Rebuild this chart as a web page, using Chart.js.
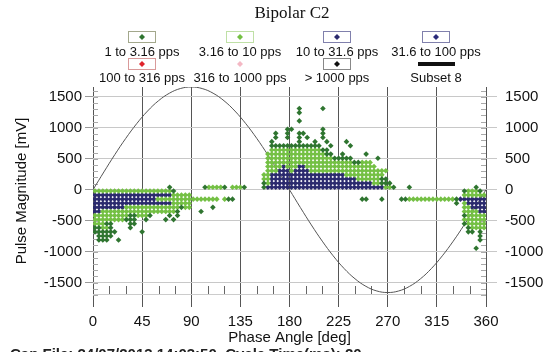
<!DOCTYPE html>
<html>
<head>
<meta charset="utf-8">
<title>Bipolar C2</title>
<script src="https://cdn.jsdelivr.net/npm/chart.js@4.4.1/dist/chart.umd.min.js"></script>
<style>
  html, body { margin: 0; padding: 0; background: #fff; }
  #wrap { width: 552px; height: 352px; }
</style>
</head>
<body>
<div id="wrap"><canvas id="chart" width="552" height="352"></canvas></div>
<script>
// --- data ---
// phase is binned in 3.6 deg steps; each run is [magnitude mV, first bin, last bin]
const phaseBinWidth = 3.6;

const xTicks = [0, 45, 90, 135, 180, 225, 270, 315, 360];
const yTicks = [-1500, -1000, -500, 0, 500, 1000, 1500];

const seriesLabels = ['1 to 3.16 pps', '3.16 to 10 pps', '10 to 31.6 pps', '31.6 to 100 pps',
  '100 to 316 pps', '316 to 1000 pps', '> 1000 pps', 'Subset 8'];

// 1 to 3.16 pps
const runs1to3 = [
  [40, 19, 19], [-20, 20, 20], [-152, 34, 35],
  [-284, 22, 22], [-284, 30, 30], [-350, 21, 21], [-350, 27, 27],
  [-416, 9, 10], [-416, 14, 14], [-416, 19, 19], [-416, 21, 21],
  [-482, 8, 10], [-482, 13, 13], [-482, 18, 18], [-482, 20, 20],
  [-548, 3, 4], [-548, 9, 10], [-614, 0, 1], [-614, 4, 4], [-614, 9, 9],
  [-680, 0, 5], [-680, 12, 12], [-746, 1, 4], [-812, 1, 3], [-812, 6, 6],
  [40, 28, 28], [40, 33, 33], [40, 38, 38],
  [40, 43, 43], [40, 76, 76], [107, 43, 43], [107, 73, 75], [174, 73, 74],
  [442, 66, 67], [509, 61, 65], [509, 72, 72],
  [576, 59, 60], [576, 63, 63], [576, 69, 69], [643, 58, 59],
  [710, 45, 57], [710, 60, 60], [710, 65, 65],
  [777, 45, 45], [777, 52, 52], [777, 56, 56], [777, 59, 59], [777, 64, 64],
  [844, 46, 46], [844, 49, 49], [844, 52, 52], [844, 54, 54], [844, 58, 58],
  [911, 46, 46], [911, 49, 49], [911, 52, 53], [911, 58, 58],
  [978, 49, 50], [978, 58, 58], [1112, 52, 52], [1246, 52, 52],
  [1313, 52, 52], [1313, 58, 58],
  [40, 80, 80], [40, 97, 97],
  [-152, 68, 69], [-152, 73, 73], [-152, 78, 79], [-152, 92, 92], [-218, 92, 92],
  [-20, 94, 94], [-20, 98, 98], [-416, 94, 94], [-548, 94, 94], [-614, 95, 95],
  [-680, 95, 96], [-680, 98, 98], [-746, 98, 98], [-812, 98, 98], [-944, 97, 97]
];

// 3.16 to 10 pps
const runs3to10 = [
  [-20, 0, 19], [-86, 20, 24], [-152, 16, 31], [-152, 33, 33], [-218, 20, 24],
  [-284, 8, 21], [-284, 23, 24], [-350, 2, 20], [-416, 0, 8], [-416, 11, 13],
  [-482, 0, 7], [-548, 0, 2], [-614, 2, 3],
  [40, 29, 32], [40, 35, 37],
  [40, 74, 75], [107, 44, 44], [107, 71, 72], [174, 43, 44], [174, 67, 72],
  [241, 43, 44], [241, 64, 73],
  [308, 44, 46], [308, 50, 50], [308, 55, 74],
  [375, 44, 47], [375, 49, 51], [375, 54, 71],
  [442, 44, 65], [442, 68, 70], [509, 44, 60], [576, 44, 58], [643, 45, 57],
  [-152, 80, 91],
  [-20, 95, 97], [-86, 94, 99], [-218, 94, 94], [-284, 94, 95], [-350, 94, 97],
  [-416, 95, 99], [-482, 94, 99], [-548, 95, 99], [-614, 96, 99]
];

// 10 to 31.6 pps
const runs10to31 = [
  [-86, 0, 19], [-152, 0, 15], [-218, 0, 19], [-284, 0, 7], [-350, 0, 1],
  [40, 44, 73], [107, 45, 70], [174, 45, 66], [241, 45, 63],
  [308, 47, 49], [308, 51, 54], [375, 48, 48], [375, 52, 53],
  [-152, 93, 99], [-218, 95, 99], [-284, 96, 99], [-350, 98, 99]
];

const runs31to100 = [];
const runs100to316 = [];
const runs316to1000 = [];
const runsOver1000 = [];

// reference voltage curve
const sineDeg = [0, 10, 20, 30, 40, 50, 60, 70, 80, 90, 100, 110, 120, 130, 140, 150, 160, 170, 180,
  190, 200, 210, 220, 230, 240, 250, 260, 270, 280, 290, 300, 310, 320, 330, 340, 350, 360];
const sineMv = [0, 288, 568, 830, 1067, 1272, 1438, 1560, 1635, 1660, 1635, 1560, 1438, 1272, 1067, 830, 568, 288, 0,
  -288, -568, -830, -1067, -1272, -1438, -1560, -1635, -1660, -1635, -1560, -1438, -1272, -1067, -830, -568, -288, 0];

function expandRuns(runs) {
  const pts = [];
  runs.forEach(([mv, from, to]) => {
    for (let b = from; b <= to; b++) {
      pts.push({ x: (b + 0.5) * phaseBinWidth, y: mv });
    }
  });
  return pts;
}

const FONT = 'Liberation Sans, Arial, sans-serif';

const seriesStyles = [
  { point: '#2f7530', box: '#a3a88c' },
  { point: '#74c044', box: '#bfe0a6' },
  { point: '#2b2a6e', box: '#8080ac' },
  { point: '#2a2a7a', box: '#8080ac' },
  { point: '#e0242c', box: '#d99a9a' },
  { point: '#f4b8c4', box: null },
  { point: '#111111', box: '#888888' },
  { point: '#111111', box: null }
];

const seriesRuns = [runs1to3, runs3to10, runs10to31, runs31to100,
  runs100to316, runs316to1000, runsOver1000, []];

const datasets = seriesLabels.map((label, i) => ({
  label: label,
  data: expandRuns(seriesRuns[i]),
  backgroundColor: seriesStyles[i].point,
  borderColor: seriesStyles[i].point,
  borderWidth: 0,
  pointStyle: 'rectRot',
  pointRadius: 2.8,
  pointHoverRadius: 2.8,
  order: 1
}));

datasets.push({
  label: 'phase reference',
  type: 'line',
  data: sineDeg.map((d, i) => ({ x: d, y: sineMv[i] })),
  borderColor: '#555555',
  borderWidth: 1,
  pointRadius: 0,
  tension: 0.4,
  fill: false,
  order: 2
});

// minor ticks, title, two-row legend and footer
const decorPlugin = {
  id: 'decor',
  beforeDatasetsDraw(chart) {
    const ctx = chart.ctx;
    const area = chart.chartArea;
    const xs = chart.scales.x;
    const ys = chart.scales.y;
    ctx.save();
    ctx.lineWidth = 1;
    ctx.strokeStyle = '#aaaaaa';
    for (let v = -1700; v <= 1600; v += 100) {
      const py = Math.round(ys.getPixelForValue(v)) + 0.5;
      ctx.beginPath();
      ctx.moveTo(area.left, py); ctx.lineTo(area.left + 5, py);
      ctx.moveTo(area.right - 5, py); ctx.lineTo(area.right, py);
      ctx.stroke();
    }
    ctx.strokeStyle = '#666666';
    for (let d = 15; d < 360; d += 15) {
      if (d % 45 === 0) continue;
      const px = Math.round(xs.getPixelForValue(d)) + 0.5;
      ctx.beginPath();
      ctx.moveTo(px, area.bottom); ctx.lineTo(px, area.bottom - 9);
      ctx.stroke();
    }
    ctx.strokeStyle = '#cccccc';
    ctx.beginPath();
    ctx.moveTo(area.left, area.bottom - 0.5); ctx.lineTo(area.right, area.bottom - 0.5);
    ctx.stroke();
    ctx.restore();
  },
  afterDraw(chart) {
    const ctx = chart.ctx;
    ctx.save();
    ctx.fillStyle = '#111';
    ctx.textAlign = 'center';
    ctx.textBaseline = 'middle';
    ctx.font = '17px "Liberation Serif", "Times New Roman", serif';
    ctx.fillText('Bipolar C2', 292, 14);

    const colX = [142, 240, 337, 436];
    const boxY = [37, 64];
    const textY = [52, 78];
    chart.data.datasets.slice(0, 8).forEach((ds, i) => {
      const cx = colX[i % 4];
      const row = Math.floor(i / 4);
      const st = seriesStyles[i];
      if (i === 7) {
        ctx.fillStyle = '#111';
        ctx.fillRect(cx - 18, boxY[row] - 2, 37, 4);
      } else {
        if (st.box) {
          ctx.strokeStyle = st.box;
          ctx.lineWidth = 1;
          ctx.strokeRect(cx - 13.5, boxY[row] - 5.5, 27, 11);
        }
        ctx.fillStyle = st.point;
        ctx.beginPath();
        ctx.moveTo(cx, boxY[row] - 3);
        ctx.lineTo(cx + 3, boxY[row]);
        ctx.lineTo(cx, boxY[row] + 3);
        ctx.lineTo(cx - 3, boxY[row]);
        ctx.closePath();
        ctx.fill();
      }
      ctx.fillStyle = '#111';
      ctx.font = '13px ' + FONT;
      ctx.fillText(ds.label, cx, textY[row]);
    });

    ctx.textAlign = 'left';
    ctx.textBaseline = 'alphabetic';
    ctx.font = 'bold 15px ' + FONT;
    ctx.fillStyle = '#222';
    ctx.fillText('Cap File: 24/07/2013 14:03:50  Cycle Time(ms): 20', 10, 359);
    ctx.restore();
  }
};

const tickFont = { family: FONT, size: 15 };
const plainLabel = (v) => String(v);

new Chart(document.getElementById('chart'), {
  type: 'scatter',
  data: { datasets: datasets },
  options: {
    responsive: false,
    animation: false,
    events: [],
    layout: { padding: { top: 87, left: 0, right: 0, bottom: 0 } },
    plugins: {
      legend: { display: false },
      title: { display: false },
      tooltip: { enabled: false }
    },
    scales: {
      x: {
        type: 'linear',
        min: 0,
        max: 360,
        afterBuildTicks: (s) => { s.ticks = xTicks.map(v => ({ value: v })); },
        afterFit: (s) => { s.height = 57; },
        grid: { color: '#555555', lineWidth: 1, drawTicks: true, tickLength: 12, tickColor: '#555555' },
        border: { display: false },
        ticks: { font: tickFont, color: '#111', padding: 6, maxRotation: 0, autoSkip: false, callback: plainLabel },
        title: { display: true, text: 'Phase Angle [deg]', font: tickFont, color: '#111', padding: { top: 0, bottom: 5 } }
      },
      y: {
        type: 'linear',
        position: 'left',
        min: -1700,
        max: 1660,
        afterBuildTicks: (s) => { s.ticks = yTicks.map(v => ({ value: v })); },
        afterFit: (s) => { s.width = 93; },
        grid: { color: '#c8c8c8', lineWidth: 1, drawTicks: true, tickLength: 8, tickColor: '#999999' },
        border: { display: false },
        ticks: { font: tickFont, color: '#111', padding: 3, callback: plainLabel },
        title: { display: true, text: 'Pulse Magnitude [mV]', font: tickFont, color: '#111', padding: { top: 13, bottom: 0 } }
      },
      y2: {
        type: 'linear',
        position: 'right',
        min: -1700,
        max: 1660,
        afterBuildTicks: (s) => { s.ticks = yTicks.map(v => ({ value: v })); },
        afterFit: (s) => { s.width = 66; },
        grid: { drawOnChartArea: false, drawTicks: true, tickLength: 11, tickColor: '#c8c8c8' },
        border: { display: false },
        ticks: { font: tickFont, color: '#111', padding: 8, callback: plainLabel }
      }
    }
  },
  plugins: [decorPlugin]
});
</script>
</body>
</html>
